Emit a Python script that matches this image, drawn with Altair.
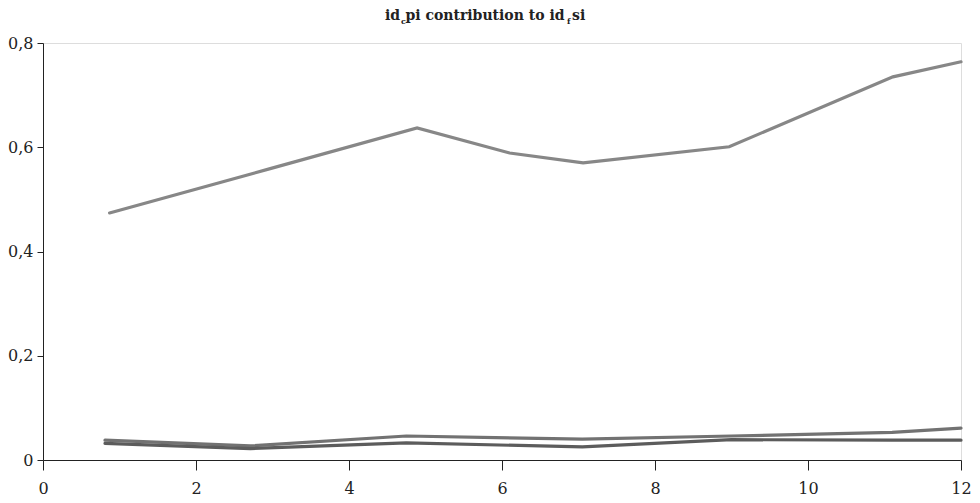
import altair as alt
import pandas as pd

# Data
top_x = [0.87, 2.97, 4.89, 6.10, 7.06, 8.97, 11.11, 12.0]
top_y = [0.474, 0.559, 0.637, 0.589, 0.570, 0.601, 0.735, 0.764]
low_x = [0.81, 2.71, 4.75, 7.05, 9.0, 11.1, 12.0]
low_a = [0.038, 0.027, 0.046, 0.040, 0.046, 0.053, 0.061]
low_b = [0.032, 0.022, 0.033, 0.025, 0.039, 0.038, 0.038]
series_names = ["s1", "s2", "s3"]
series_colors = ["#878787", "#727272", "#5c5c5c"]
x_ticks = [0, 2, 4, 6, 8, 10, 12]
y_ticks = [0, 0.2, 0.4, 0.6, 0.8]

rows = []
for x, y in zip(top_x, top_y):
    rows.append({"x": x, "y": y, "s": series_names[0]})
for x, y in zip(low_x, low_a):
    rows.append({"x": x, "y": y, "s": series_names[1]})
for x, y in zip(low_x, low_b):
    rows.append({"x": x, "y": y, "s": series_names[2]})
df = pd.DataFrame(rows)

FONT = "DejaVu Serif"
lbl = "datum.value == 0 ? '0' : replace(format(datum.value, '.1f'), '.', ',')"

lines = alt.Chart(df).mark_line(strokeWidth=3.2, strokeCap="round").encode(
    x=alt.X("x:Q", scale=alt.Scale(domain=[0, 12], nice=False),
            axis=alt.Axis(values=x_ticks, title=None, grid=False, tickSize=10,
                          labelPadding=10, labelFontSize=16, labelFont=FONT,
                          labelColor="#222", domainColor="#222", tickColor="#222",
                          labelFlush=False)),
    y=alt.Y("y:Q", scale=alt.Scale(domain=[0, 0.8], nice=False),
            axis=alt.Axis(values=y_ticks, title=None, grid=False, tickSize=6,
                          labelPadding=4, labelFontSize=16, labelFont=FONT,
                          labelColor="#222", domainColor="#222", tickColor="#222",
                          labelExpr=lbl, labelFlush=False)),
    color=alt.Color("s:N", scale=alt.Scale(domain=series_names, range=series_colors), legend=None),
    detail="s:N",
)

one = pd.DataFrame({"k": [0]})

def piece(txt, xpos, ypos, size, align):
    return alt.Chart(one).mark_text(
        font=FONT, fontWeight="bold", fontSize=size, align=align,
        baseline="alphabetic", color="#222"
    ).encode(x=alt.value(xpos), y=alt.value(ypos), text=alt.value(txt))

title_parts = [
    piece("id", 357, -23, 14, "right"),
    piece("c", 358, -19, 8, "left"),
    piece("pi contribution to id", 442, -23, 14, "center"),
    piece("f", 524, -19, 8, "left"),
    piece("si", 529, -23, 14, "left"),
]

chart = alt.layer(lines, *title_parts).properties(
    width=918, height=417,
    autosize=alt.AutoSizeParams(type="none"),
    padding={"left": 43, "top": 43, "right": 19, "bottom": 43},
).configure_view(stroke=None).configure(background="white")

chart.save("out.html", embed_options={"renderer": "svg", "actions": False})
